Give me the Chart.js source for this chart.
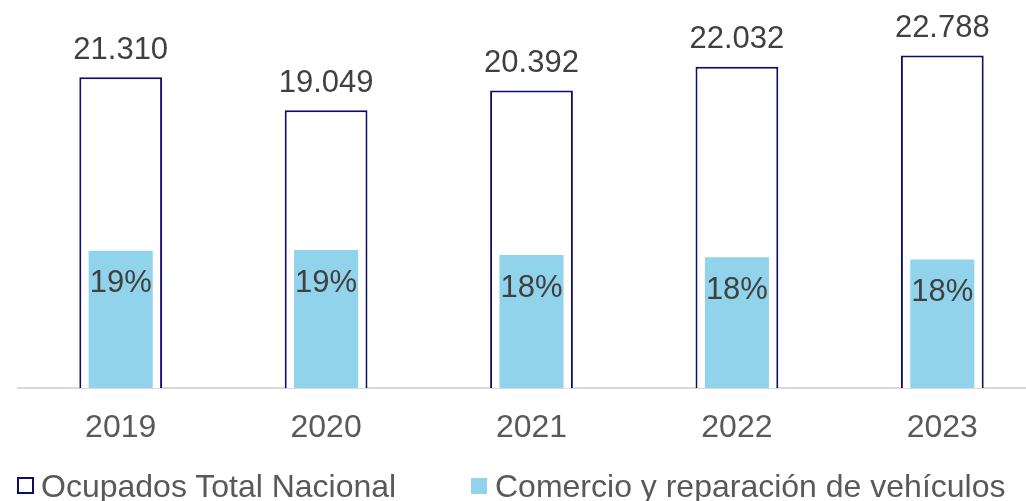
<!DOCTYPE html>
<html>
<head>
<meta charset="utf-8">
<script src="https://cdn.jsdelivr.net/npm/chart.js@4/dist/chart.umd.min.js"></script>
<style>
  html, body { margin: 0; padding: 0; background: #fff; overflow: hidden; }
  #wrap { position: relative; width: 1045px; height: 501px; }
  .leg { position: absolute; font-family: 'Liberation Sans', Arial, sans-serif; font-size: 32px; line-height: 32px; color: #595959; white-space: nowrap; }
  .box { position: absolute; box-sizing: border-box; }
</style>
</head>
<body>
<div id="wrap">
  <canvas id="chart"></canvas>
  <div class="box" style="left:17px;top:477px;width:17px;height:17px;border:2px solid #0d0d6e;background:#fff;"></div>
  <div class="leg" style="left:41px;top:470px;">Ocupados Total Nacional</div>
  <div class="box" style="left:471px;top:478px;width:16px;height:16px;background:#92d3ec;"></div>
  <div class="leg" style="left:495px;top:470px;">Comercio y reparación de vehículos</div>
</div>
<script>
const years = ['2019', '2020', '2021', '2022', '2023'];
// ocupados, miles
const totalOcupados = [21310, 19049, 20392, 22032, 22788];
// participacion del comercio, %
const shareComercio = [19.0, 19.1, 18.4, 18.1, 17.8];

const navy = '#0d0d6e';
const lightBlue = '#92d3ec';

const fmtMiles = v => v.toLocaleString('de-DE');

const labelsPlugin = {
  id: 'barLabels',
  afterDatasetsDraw(chart) {
    const ctx = chart.ctx;
    ctx.save();
    ctx.font = '31px "Liberation Sans", Arial, sans-serif';
    ctx.fillStyle = '#404040';
    ctx.textAlign = 'center';
    ctx.textBaseline = 'middle';
    chart.getDatasetMeta(0).data.forEach((bar, i) => {
      ctx.fillText(fmtMiles(totalOcupados[i]), bar.x, bar.y - 27);
    });
    chart.getDatasetMeta(1).data.forEach((bar, i) => {
      ctx.fillText(Math.round(shareComercio[i]) + '%', bar.x, bar.y + 33);
    });
    ctx.restore();
  }
};

new Chart(document.getElementById('chart'), {
  type: 'bar',
  data: {
    labels: years,
    datasets: [
      {
        label: 'Ocupados Total Nacional',
        data: totalOcupados,
        backgroundColor: '#ffffff',
        borderColor: navy,
        borderWidth: 2,
        yAxisID: 'y',
        grouped: false,
        barPercentage: 0.403,
        categoryPercentage: 1,
        order: 2
      },
      {
        label: 'Comercio y reparación de vehículos',
        data: shareComercio,
        backgroundColor: lightBlue,
        borderWidth: 0,
        yAxisID: 'y2',
        grouped: false,
        barPercentage: 0.312,
        categoryPercentage: 1,
        order: 1
      }
    ]
  },
  options: {
    responsive: true,
    maintainAspectRatio: false,
    animation: false,
    layout: { padding: { left: 18, right: 0, top: 0, bottom: 0 } },
    plugins: {
      legend: { display: false },
      tooltip: { enabled: false }
    },
    scales: {
      x: {
        grid: { display: false },
        border: { display: true, color: '#d9d9d9', width: 2 },
        ticks: {
          color: '#595959',
          padding: 13,
          font: { family: "'Liberation Sans', Arial, sans-serif", size: 32 }
        },
        afterFit: s => { s.height = 113; }
      },
      y: { display: false, min: 0, max: 26600 },
      y2: { display: false, min: 0, max: 53.7 }
    }
  },
  plugins: [labelsPlugin]
});
</script>
</body>
</html>
